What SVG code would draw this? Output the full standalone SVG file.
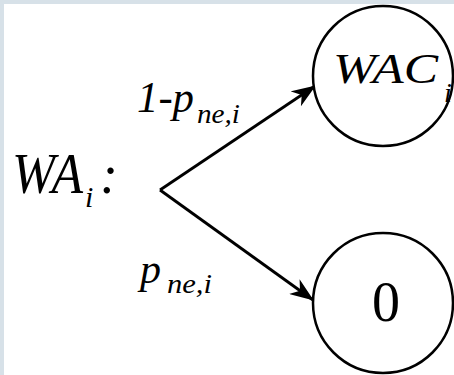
<svg xmlns="http://www.w3.org/2000/svg" width="454" height="375" viewBox="0 0 454 375">
<style>
text{font-family:"Liberation Serif","Times New Roman",serif;fill:#000}
.t{font-style:italic}
.n{fill:#fff;stroke:#000;stroke-width:2.5}
.e{stroke:#000;stroke-width:2.8;fill:none}
</style>
<defs>
<marker id="ah" viewBox="0 0 24 18" refX="23" refY="9" markerWidth="24" markerHeight="18" markerUnits="userSpaceOnUse" orient="auto">
<path d="M0,0 L24,9 L0,18 L7,9 Z" fill="#000"/>
</marker>
</defs>
<rect width="454" height="375" fill="#d7e1e8"/>
<rect x="4" y="4" width="450" height="371" fill="#fff"/>
<g id="start">
<text class="t" x="12" y="193" font-size="58" textLength="71" lengthAdjust="spacingAndGlyphs">WA</text>
<text class="t" x="85" y="207" font-size="30">i</text>
<text class="t" x="100" y="193" font-size="54">:</text>
</g>
<g id="connectors">
<line class="e" x1="160" y1="190" x2="315" y2="86" marker-end="url(#ah)"/>
<line class="e" x1="160" y1="190" x2="313" y2="300" marker-end="url(#ah)"/>
<text class="t" x="137" y="112" font-size="44" textLength="57" lengthAdjust="spacingAndGlyphs">1-p</text>
<text class="t" x="197" y="123" font-size="28" textLength="43" lengthAdjust="spacingAndGlyphs">ne,i</text>
<text class="t" x="140" y="283" font-size="42">p</text>
<text class="t" x="167" y="293" font-size="28" textLength="45" lengthAdjust="spacingAndGlyphs">ne,i</text>
</g>
<g id="node-wac">
<circle class="n" cx="383" cy="76" r="70"/>
<text class="t" x="333" y="83" font-size="43" textLength="105" lengthAdjust="spacingAndGlyphs">WAC</text>
<text class="t" x="444" y="102" font-size="28">i</text>
</g>
<g id="node-zero">
<circle class="n" cx="383" cy="303" r="70"/>
<text x="386" y="321" font-size="56" text-anchor="middle">0</text>
</g>
</svg>
